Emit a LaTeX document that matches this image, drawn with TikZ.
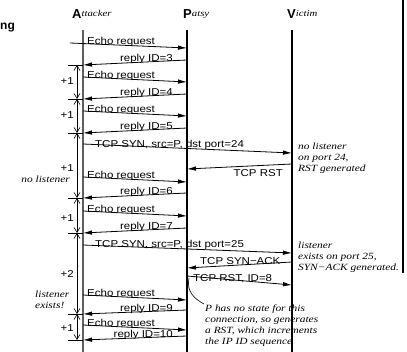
\documentclass[tikz,border=0pt]{standalone}
\usepackage{fontspec}
\setmainfont{Liberation Serif}
\setsansfont{Liberation Sans}
\newfontfamily\msgfont{Liberation Sans}[FakeStretch=1.15]
\newfontfamily\notefont{Liberation Serif}[FakeStretch=1.2]
\usepackage{tikz}
\usetikzlibrary{arrows.meta}
\definecolor{lifegray}{RGB}{95,95,95}
\tikzset{
  life/.style={line width=1.1pt, black},
  msg/.style={line width=0.8pt, -{Latex[length=9pt,width=4.5pt]}},
  tick/.style={line width=0.8pt},
  count/.style={line width=0.6pt, {Straight Barb[length=5pt,width=6pt]}-{Straight Barb[length=5pt,width=6pt]}},
  lbl/.style={inner sep=0pt, font=\msgfont\fontsize{10}{12}\selectfont},
  note/.style={inner sep=0pt, align=left, font=\notefont\itshape\fontsize{9.5}{11}\selectfont},
  head/.style={inner sep=0pt, anchor=base west}
}
\newcommand{\hd}[2]{{\sffamily\bfseries\fontsize{13}{13}\selectfont #1}\raisebox{2.5pt}{\notefont\itshape\fontsize{9}{9}\selectfont #2}}

\begin{document}
\begin{tikzpicture}[x=1pt,y=-1pt]
  \useasboundingbox (0,0) rectangle (407,352);
  \node[inner sep=0pt, anchor=base west, font=\sffamily\bfseries\fontsize{12}{12}\selectfont] (cut) at (0,30) {ng};
  \coordinate (bt) at (403,0); \coordinate (bb) at (403,273);
  \draw[line width=2pt] (bt) -- (bb);

  % hosts and lifelines
  \node[head] (atk) at (72,19) {\hd{A}{ttacker}};
  \node[head] (pat) at (183,19) {\hd{P}{atsy}};
  \node[head] (vic) at (287,19) {\hd{V}{ictim}};
  \coordinate (at) at (83,30); \coordinate (ab) at (83,352);
  \coordinate (pt) at (187,30); \coordinate (pb) at (187,352);
  \coordinate (vt) at (292,30); \coordinate (vb) at (292,352);
  \draw[life, lifegray] (at) -- (ab);
  \draw[life] (pt) -- (pb);
  \draw[life] (vt) -- (vb);

  % probing the IP ID of the patsy
  \coordinate (e1a) at (70,43); \coordinate (e1p) at (187,48);
  \draw[msg] (e1a) -- (e1p); \node[lbl, anchor=base west] (e1t) at (87,45) {Echo request};
  \coordinate (r3p) at (187,60); \coordinate (r3a) at (83,65); \coordinate (r3k) at (68,65);
  \draw[msg] (r3p) -- (r3a); \draw[tick] (r3a) -- (r3k);
  \node[lbl, anchor=base east] (r3t) at (173,61.5) {reply ID=3};
  \coordinate (e2a) at (83,77); \coordinate (e2p) at (187,82);
  \draw[msg] (e2a) -- (e2p); \node[lbl, anchor=base west] (e2t) at (87,79) {Echo request};
  \coordinate (r4p) at (187,94); \coordinate (r4a) at (83,99); \coordinate (r4k) at (68,99);
  \draw[msg] (r4p) -- (r4a); \draw[tick] (r4a) -- (r4k);
  \node[lbl, anchor=base east] (r4t) at (173,95.5) {reply ID=4};
  \coordinate (e3a) at (83,111); \coordinate (e3p) at (187,116);
  \draw[msg] (e3a) -- (e3p); \node[lbl, anchor=base west] (e3t) at (87,113) {Echo request};
  \coordinate (r5p) at (187,128); \coordinate (r5a) at (83,133); \coordinate (r5k) at (68,133);
  \draw[msg] (r5p) -- (r5a); \draw[tick] (r5a) -- (r5k);
  \node[lbl, anchor=base east] (r5t) at (173,129.5) {reply ID=5};

  % spoofed SYN to a closed port
  \coordinate (s1a) at (83,144); \coordinate (s1v) at (292,153);
  \draw[msg] (s1a) -- (s1v); \node[lbl, anchor=base west] (s1t) at (95,147.5) {TCP SYN, src=P, dst port=24};
  \coordinate (k1v) at (292,164); \coordinate (k1p) at (187,169);
  \draw[msg] (k1v) -- (k1p); \node[lbl, anchor=base east] (k1t) at (283,177) {TCP RST};
  \node[note, anchor=north west] (n24) at (298,142.5) {no listener\\on port 24,\\RST generated};

  \coordinate (e4a) at (83,177); \coordinate (e4p) at (187,182);
  \draw[msg] (e4a) -- (e4p); \node[lbl, anchor=base west] (e4t) at (87,179) {Echo request};
  \coordinate (r6p) at (187,193); \coordinate (r6a) at (83,198); \coordinate (r6k) at (68,198);
  \draw[msg] (r6p) -- (r6a); \draw[tick] (r6a) -- (r6k);
  \node[lbl, anchor=base east] (r6t) at (173,194.5) {reply ID=6};
  \coordinate (e5a) at (83,211); \coordinate (e5p) at (187,216);
  \draw[msg] (e5a) -- (e5p); \node[lbl, anchor=base west] (e5t) at (87,213) {Echo request};
  \coordinate (r7p) at (187,228); \coordinate (r7a) at (83,233); \coordinate (r7k) at (68,233);
  \draw[msg] (r7p) -- (r7a); \draw[tick] (r7a) -- (r7k);
  \node[lbl, anchor=base east] (r7t) at (173,229.5) {reply ID=7};

  % spoofed SYN to an open port
  \coordinate (s2a) at (83,245); \coordinate (s2v) at (292,253);
  \draw[msg] (s2a) -- (s2v); \node[lbl, anchor=base west] (s2t) at (95,248) {TCP SYN, src=P, dst port=25};
  \coordinate (k2v) at (292,262); \coordinate (k2p) at (187,268);
  \draw[msg] (k2v) -- (k2p); \node[lbl, anchor=base west] (k2t) at (200,265) {TCP SYN−ACK};
  \coordinate (k3p) at (187,276); \coordinate (k3v) at (292,285);
  \draw[msg] (k3p) -- (k3v); \node[lbl, anchor=base west] (k3t) at (193,281.5) {TCP RST, ID=8};
  \node[note, anchor=north west] (n25) at (298,241.5) {listener\\exists on port 25,\\SYN−ACK generated.};
  \coordinate (q0) at (189,278); \coordinate (q1) at (204,304);
  \draw[line width=0.6pt] (q0) .. controls (186,292) and (195,299) .. (q1);
  \node[note, anchor=north west] (nrst) at (205,304.5) {P has no state for this\\connection, so generates\\a RST, which increments\\the IP ID sequence};

  \coordinate (e6a) at (83,295); \coordinate (e6p) at (187,300);
  \draw[msg] (e6a) -- (e6p); \node[lbl, anchor=base west] (e6t) at (87,297) {Echo request};
  \coordinate (r9p) at (187,310); \coordinate (r9a) at (83,314); \coordinate (r9k) at (68,314);
  \draw[msg] (r9p) -- (r9a); \draw[tick] (r9a) -- (r9k);
  \node[lbl, anchor=base east] (r9t) at (173,312) {reply ID=9};
  \coordinate (e7a) at (83,325); \coordinate (e7p) at (187,330);
  \draw[msg] (e7a) -- (e7p); \node[lbl, anchor=base west] (e7t) at (87,327) {Echo request};
  \coordinate (r10p) at (187,336); \coordinate (r10a) at (83,340); \coordinate (r10k) at (68,340);
  \draw[msg] (r10p) -- (r10a); \draw[tick] (r10a) -- (r10k);
  \node[lbl, anchor=base east] (r10t) at (173,338) {reply ID=10};

  % IP ID increments seen by the attacker
  \coordinate (c1) at (77,65); \coordinate (c2) at (77,99); \coordinate (c3) at (77,133);
  \coordinate (c4) at (77,198); \coordinate (c5) at (77,233); \coordinate (c6) at (77,314);
  \coordinate (c7) at (77,340);
  \draw[count] (c1) -- (c2); \draw[count] (c2) -- (c3); \draw[count] (c3) -- (c4);
  \draw[count] (c4) -- (c5); \draw[count] (c5) -- (c6); \draw[count] (c6) -- (c7);
  \node[lbl, anchor=east] (d1) at (74,81) {+1};
  \node[lbl, anchor=east] (d2) at (74,115) {+1};
  \node[lbl, anchor=east] (d3) at (74,168) {+1};
  \node[note, anchor=base east] (d3n) at (70,183) {no listener};
  \node[lbl, anchor=east] (d4) at (74,218) {+1};
  \node[lbl, anchor=east] (d5) at (74,274) {+2};
  \node[note, anchor=north west] (d5n) at (35,291) {listener\\exists!};
  \node[lbl, anchor=east] (d6) at (74,328) {+1};
\end{tikzpicture}
\end{document}
